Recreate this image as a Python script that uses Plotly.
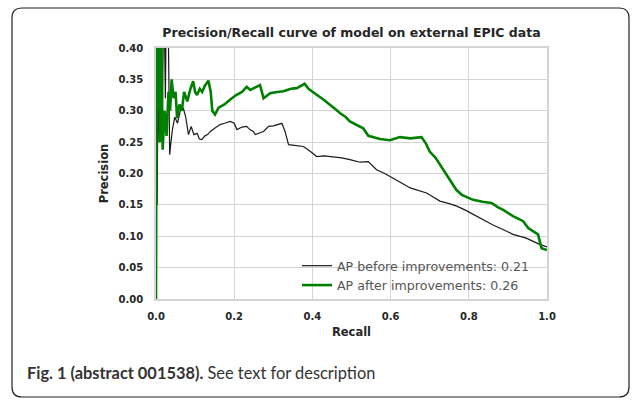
import plotly.graph_objects as go

# PR curve before improvements (black)
recall_before = [0.003, 0.005, 0.008, 0.012, 0.016, 0.020, 0.024, 0.028, 0.032, 0.035,
                 0.037, 0.042, 0.048, 0.055, 0.062, 0.070, 0.076, 0.083, 0.090, 0.097,
                 0.105, 0.111, 0.117, 0.125, 0.132, 0.139, 0.150, 0.164, 0.175, 0.190,
                 0.200, 0.207, 0.220, 0.232, 0.240, 0.249, 0.254, 0.265, 0.275, 0.288,
                 0.300, 0.322, 0.330, 0.339, 0.355, 0.377, 0.395, 0.411, 0.430, 0.454,
                 0.475, 0.496, 0.522, 0.543, 0.564, 0.585, 0.607, 0.628, 0.650, 0.670,
                 0.692, 0.710, 0.726, 0.750, 0.769, 0.790, 0.820, 0.840, 0.862, 0.890,
                 0.913, 0.947, 0.981, 1.000]
precision_before = [0.150, 0.350, 0.250, 0.400, 0.280, 0.500, 0.320, 0.600, 0.400, 0.230,
                    0.243, 0.270, 0.290, 0.280, 0.300, 0.304, 0.290, 0.262, 0.275, 0.262,
                    0.264, 0.255, 0.254, 0.260, 0.262, 0.267, 0.272, 0.278, 0.280, 0.283,
                    0.280, 0.270, 0.274, 0.275, 0.270, 0.267, 0.262, 0.265, 0.267, 0.275,
                    0.276, 0.280, 0.267, 0.246, 0.245, 0.243, 0.235, 0.227, 0.228, 0.227,
                    0.225, 0.222, 0.218, 0.219, 0.206, 0.200, 0.193, 0.185, 0.177, 0.173,
                    0.169, 0.162, 0.156, 0.152, 0.148, 0.142, 0.132, 0.125, 0.118, 0.110,
                    0.103, 0.097, 0.087, 0.083]

# PR curve after improvements (green)
recall_after = [0.000, 0.002, 0.004, 0.006, 0.010, 0.013, 0.017, 0.022, 0.027, 0.032,
                0.036, 0.040, 0.045, 0.050, 0.054, 0.060, 0.066, 0.072, 0.080, 0.088,
                0.095, 0.100, 0.105, 0.112, 0.118, 0.125, 0.134, 0.140, 0.144, 0.151,
                0.160, 0.175, 0.190, 0.205, 0.220, 0.232, 0.241, 0.255, 0.266, 0.275,
                0.292, 0.310, 0.326, 0.345, 0.360, 0.372, 0.380, 0.390, 0.398, 0.410,
                0.428, 0.445, 0.460, 0.471, 0.485, 0.496, 0.510, 0.530, 0.543, 0.560,
                0.573, 0.598, 0.624, 0.650, 0.679, 0.690, 0.700, 0.715, 0.726, 0.740,
                0.752, 0.768, 0.782, 0.811, 0.835, 0.858, 0.875, 0.888, 0.913, 0.939,
                0.952, 0.965, 0.977, 0.986, 1.000]
precision_after = [0.000, 0.500, 0.300, 0.600, 0.250, 0.450, 0.238, 0.300, 0.260, 0.330,
                   0.300, 0.350, 0.320, 0.330, 0.288, 0.310, 0.300, 0.330, 0.315, 0.335,
                   0.347, 0.330, 0.325, 0.335, 0.330, 0.340, 0.348, 0.330, 0.300, 0.294,
                   0.305, 0.310, 0.318, 0.325, 0.330, 0.338, 0.333, 0.337, 0.341, 0.320,
                   0.328, 0.330, 0.331, 0.335, 0.336, 0.340, 0.343, 0.335, 0.331, 0.326,
                   0.318, 0.310, 0.302, 0.296, 0.290, 0.283, 0.278, 0.272, 0.260, 0.257,
                   0.255, 0.253, 0.258, 0.256, 0.258, 0.248, 0.235, 0.225, 0.214, 0.200,
                   0.190, 0.174, 0.166, 0.158, 0.155, 0.153, 0.146, 0.142, 0.132, 0.124,
                   0.113, 0.108, 0.103, 0.081, 0.078]

title = "Precision/Recall curve of model on external EPIC data"
labels = ["AP before improvements: 0.21", "AP after improvements: 0.26"]
x_ticks = [0.0, 0.2, 0.4, 0.6, 0.8, 1.0]
y_ticks = [0.00, 0.05, 0.10, 0.15, 0.20, 0.25, 0.30, 0.35, 0.40]

W, H = 635, 400
L, R, T, B = 156, 88, 48, 101
pw, ph = W - L - R, H - T - B


def px(x):
    return (x - L) / pw


def py(y):
    return (H - B - y) / ph


fig = go.Figure()
fig.add_trace(go.Scatter(x=recall_before, y=precision_before, mode="lines",
                         line=dict(color="#1a1a1a", width=1.2), name=labels[0]))
fig.add_trace(go.Scatter(x=recall_after, y=precision_after, mode="lines",
                         line=dict(color="#008000", width=2.6), name=labels[1]))

tick_font = dict(family="DejaVu Sans", size=10, color="#262626", weight="bold")
axis_common = dict(showgrid=True, gridcolor="#d4d4d4", gridwidth=1, zeroline=False,
                   showline=True, linecolor="#d4d4d4", linewidth=1.5, mirror=True,
                   ticks="", tickfont=tick_font)
label_font = dict(family="DejaVu Sans", size=11.5, color="#262626")

fig.update_layout(
    width=W, height=H,
    margin=dict(l=L, r=R, t=T, b=B),
    paper_bgcolor="white", plot_bgcolor="white",
    title=dict(text="<b>" + title + "</b>", x=351.5 / W, xanchor="center",
               y=1 - 33 / H, yanchor="middle",
               font=dict(family="DejaVu Sans", size=12.5, color="#262626")),
    xaxis=dict(range=[0, 1], tickvals=x_ticks, ticktext=["%.1f" % v for v in x_ticks],
               ticklabelstandoff=7,
               title=dict(text="<b>Recall</b>", standoff=7, font=label_font),
               **axis_common),
    yaxis=dict(range=[0, 0.4], tickvals=y_ticks, ticktext=["%.2f" % v for v in y_ticks],
               ticklabelstandoff=9,
               title=dict(text="<b>Precision</b>", standoff=8, font=label_font),
               **axis_common),
    legend=dict(x=px(297), y=py(251), xanchor="left", yanchor="top",
                bgcolor="rgba(0,0,0,0)", font=dict(family="DejaVu Sans", size=12.6, color="#555555"),
                tracegroupgap=0),
    showlegend=True,
)

# rounded frame around the whole figure
x0, x1, y0, y1, r = 12, 629, 8, 397, 10
path = (f"M {px(x0 + r)} {py(y0)} L {px(x1 - r)} {py(y0)} Q {px(x1)} {py(y0)} {px(x1)} {py(y0 + r)} "
        f"L {px(x1)} {py(y1 - r)} Q {px(x1)} {py(y1)} {px(x1 - r)} {py(y1)} "
        f"L {px(x0 + r)} {py(y1)} Q {px(x0)} {py(y1)} {px(x0)} {py(y1 - r)} "
        f"L {px(x0)} {py(y0 + r)} Q {px(x0)} {py(y0)} {px(x0 + r)} {py(y0)} Z")
fig.add_shape(type="path", path=path, xref="paper", yref="paper",
              line=dict(color="#222222", width=1.2), layer="below")

fig.add_annotation(text="<b>Fig. 1 (abstract 001538).</b> See text for description",
                   x=px(25), y=py(372), xref="paper", yref="paper",
                   xanchor="left", yanchor="middle", showarrow=False,
                   font=dict(family="Lato", size=16.4, color="#333333"))

fig.write_html("out.html", config={"displayModeBar": False},
               post_script="document.body.style.margin='0';")
